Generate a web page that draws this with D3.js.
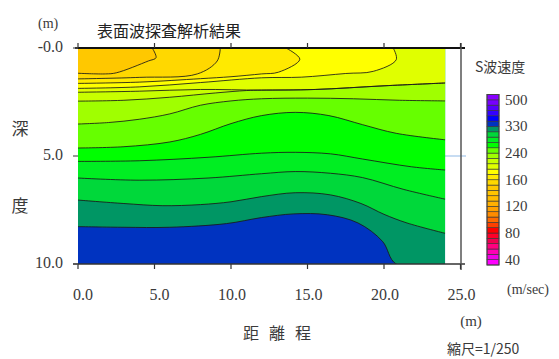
<!DOCTYPE html>
<html><head><meta charset="utf-8">
<script src="https://cdn.jsdelivr.net/npm/d3@7"></script>
<style>
html,body{margin:0;padding:0;background:#fff;}
svg{display:block;}
</style></head>
<body>
<svg id="chart" width="559" height="359"></svg>
<script>
// ---------- data ----------
const xTicks = [0, 5, 10, 15, 20, 25];
const xTickLabels = ["0.0", "5.0", "10.0", "15.0", "20.0", "25.0"];
const yTicks = [0, 5, 10];
const yTickLabels = ["-0.0", "5.0", "10.0"];
const dataExtentX = [0, 24];   // surveyed distance (m)
const depthExtent = [0, 10];   // depth (m)

// legend: velocity thresholds (m/sec) between colour cells, colour cells from slowest to fastest
const legendThresholds = [40, 48, 56, 64, 72, 80, 88, 96, 104, 112, 120, 128, 136, 144, 152, 160,
  176, 192, 208, 224, 240, 258, 276, 294, 312, 330, 364, 398, 432, 466, 500];
const legendColors = ["#ff00ff", "#f000e6", "#ff00b4", "#ff0080", "#f00050", "#ff0028", "#ff0000",
  "#ff4000", "#ff6a00", "#ff8c00", "#ffa000", "#ffb000", "#ffbc00", "#ffc400", "#ffc800", "#ffd800",
  "#ffea00", "#ffff00", "#e0ff00", "#c8ff00", "#a0ff00", "#66ff00", "#00ff00", "#00ee22", "#00d83a",
  "#009664", "#0033c0", "#0000ff", "#3300ff", "#5500ff", "#7700ff", "#8800ff"];
const legendLabels = [40, 80, 120, 160, 240, 330, 500];

// contour lines: [distance (m), depth (m)] for each velocity level (m/sec)
const contourLevels = [152, 160, 176, 192, 208, 224, 240, 258, 276, 294, 312, 330];
const contour152 = [[0,1.17],[1.8,1.2],[2.5,1.15],[4.6,0.6],[5.1,0.45],[4.85,0]];
const contour160 = [[0,1.43],[4,1.36],[7.8,1.2],[9.1,0.6],[9.3,0]];
const contour176 = [[0,1.64],[4,1.58],[8,1.42],[10,1.33],[12,1.2],[13.1,1.12],[14.5,0.52],[13.6,0]];
const contour192 = [[0,1.87],[4,1.8],[8,1.6],[12,1.38],[14.6,1.35],[17.5,1.18],[19.3,1.08],[20.8,0.54],[20.6,0]];
const contour208 = [[0,2.05],[4,2.0],[8,1.92],[12,1.95],[15.5,1.92],[20,1.75],[24,1.62]];
const contour224 = [[0,2.46],[3,2.42],[6,2.28],[9,2.08],[11,1.97],[12,1.95],[15.5,1.92],[20,1.75],[24,1.62]];
const contour240 = [[0,3.52],[2,3.45],[4,3.3],[6,3.05],[8,2.65],[10,2.45],[12,2.35],[15,2.32],[18,2.35],[21,2.42],[24,2.45]];
const contour258 = [[0,4.63],[3,4.57],[6,4.35],[8,4.0],[10,3.5],[12,3.13],[14.2,2.98],[16.4,3.13],[18.6,3.55],[20.8,3.95],[24,4.25]];
const contour276 = [[0,5.25],[4,5.22],[8.5,5.06],[12,4.87],[14.2,4.83],[16.5,4.9],[18.6,5.14],[21.8,5.5],[24,5.65]];
const contour294 = [[0,6.02],[4,6.12],[8.5,6.02],[12,5.82],[14.2,5.72],[16.5,5.8],[18.6,6.0],[21.3,6.55],[24,7.0]];
const contour312 = [[0,7.04],[3,7.2],[5.5,7.3],[8,7.25],[10,7.12],[12,6.88],[14.2,6.7],[16.5,6.8],[18.5,7.2],[20,7.7],[21.5,8.1],[24,8.58]];
const contour330 = [[0,8.27],[3,8.3],[6,8.3],[9.7,8.13],[12,7.85],[14.1,7.68],[16.3,7.72],[18.3,8.1],[19.9,8.95],[20.8,10],[24,10]];
const contourLines = [contour152, contour160, contour176, contour192, contour208, contour224,
  contour240, contour258, contour276, contour294, contour312, contour330];

// ---------- drawing ----------
const svg = d3.select("#chart");
const x = d3.scaleLinear().domain([0, 25]).range([78, 460.5]);
const y = d3.scaleLinear().domain(depthExtent).range([48, 264]);
const color = d3.scaleThreshold().domain(legendThresholds).range(legendColors);

const numFont = "'Liberation Serif', 'DejaVu Serif', serif";
const jpFont = "'Noto Sans CJK JP', 'Noto Sans', sans-serif";
const txt = "#3a3a3a";

// light grid line at 5 m depth
svg.append("line")
  .attr("x1", x(0)).attr("x2", 466).attr("y1", y(5)).attr("y2", y(5))
  .attr("stroke", "#b4d0ee").attr("stroke-width", 1.5);

svg.append("clipPath").attr("id", "plotClip")
  .append("rect")
  .attr("x", x(dataExtentX[0])).attr("y", y(depthExtent[0]))
  .attr("width", x(dataExtentX[1]) - x(dataExtentX[0]))
  .attr("height", y(depthExtent[1]) - y(depthExtent[0]));

const plot = svg.append("g").attr("clip-path", "url(#plotClip)");

// base band: fastest velocity below the deepest contour
const maxLevel = d3.max(contourLevels);
plot.append("rect")
  .attr("x", x(dataExtentX[0])).attr("y", y(depthExtent[0]))
  .attr("width", x(dataExtentX[1]) - x(dataExtentX[0]))
  .attr("height", y(depthExtent[1]) - y(depthExtent[0]))
  .attr("fill", color(maxLevel + 0.5));

const lineGen = d3.line().x(d => x(d[0])).y(d => y(d[1])).curve(d3.curveCatmullRom.alpha(0.5));

// fill region shallower than each contour, deepest first
const order = d3.range(contourLevels.length).reverse();
order.forEach(i => {
  const pts = contourLines[i];
  const last = pts[pts.length - 1];
  const path = lineGen(pts) + "L" + x(last[0]) + "," + y(0) + "L" + x(0) + "," + y(0) + "Z";
  plot.append("path").attr("d", path).attr("fill", color(contourLevels[i] - 0.5)).attr("stroke", "none");
});
// contour lines
order.forEach(i => {
  plot.append("path").attr("d", lineGen(contourLines[i]))
    .attr("fill", "none").attr("stroke", "#1a1a1a").attr("stroke-width", 1).attr("stroke-opacity", 0.85);
});

// frame lines
svg.append("line").attr("x1", 75).attr("x2", 465).attr("y1", y(0)).attr("y2", y(0))
  .attr("stroke", "#111").attr("stroke-width", 2);
svg.append("line").attr("x1", 73).attr("x2", 465).attr("y1", y(10)).attr("y2", y(10))
  .attr("stroke", "#333").attr("stroke-width", 1.5);
svg.append("line").attr("x1", 461).attr("x2", 461).attr("y1", 43).attr("y2", 270)
  .attr("stroke", "#555").attr("stroke-width", 1.5);

// top ticks
svg.append("g").selectAll("line").data(xTicks).join("line")
  .attr("x1", d => x(d)).attr("x2", d => x(d)).attr("y1", y(0) - 5).attr("y2", y(0))
  .attr("stroke", "#333").attr("stroke-width", 1.2);
// bottom ticks
svg.append("g").selectAll("line").data(xTicks).join("line")
  .attr("x1", d => x(d)).attr("x2", d => x(d)).attr("y1", y(10)).attr("y2", y(10) + 5)
  .attr("stroke", "#333").attr("stroke-width", 1.2);
// left ticks
svg.append("g").selectAll("line").data(yTicks).join("line")
  .attr("x1", 73).attr("x2", x(0)).attr("y1", d => y(d)).attr("y2", d => y(d))
  .attr("stroke", "#555").attr("stroke-width", 1.2);

// tick labels
svg.append("g").selectAll("text").data(xTicks).join("text")
  .attr("x", d => x(d) + 15).attr("y", 300)
  .attr("text-anchor", "end").attr("font-family", numFont).attr("font-size", 16)
  .attr("fill", txt).text((d, i) => xTickLabels[i]);
svg.append("g").selectAll("text").data(yTicks).join("text")
  .attr("x", 63).attr("y", d => y(d) + 4)
  .attr("text-anchor", "end").attr("font-family", numFont).attr("font-size", 16)
  .attr("fill", txt).text((d, i) => yTickLabels[i]);

// titles and axis names
svg.append("text").attr("x", 97).attr("y", 37).attr("font-family", jpFont).attr("font-size", 16)
  .attr("fill", "#222").text("表面波探査解析結果");
svg.append("text").attr("x", 38).attr("y", 28).attr("font-family", numFont).attr("font-size", 14)
  .attr("fill", txt).text("(m)");
svg.append("text").attr("x", 20).attr("y", 135).attr("text-anchor", "middle")
  .attr("font-family", jpFont).attr("font-size", 17).attr("fill", txt).text("深");
svg.append("text").attr("x", 20).attr("y", 212).attr("text-anchor", "middle")
  .attr("font-family", jpFont).attr("font-size", 17).attr("fill", txt).text("度");
const xName = ["距", "離", "程"];
svg.append("g").selectAll("text").data(xName).join("text")
  .attr("x", (d, i) => 251 + i * 26).attr("y", 339).attr("text-anchor", "middle")
  .attr("font-family", jpFont).attr("font-size", 16).attr("fill", txt).text(d => d);
svg.append("text").attr("x", 471).attr("y", 326).attr("text-anchor", "middle")
  .attr("font-family", numFont).attr("font-size", 15).attr("fill", txt).text("(m)");
svg.append("text").attr("x", 447).attr("y", 354)
  .attr("font-family", jpFont).attr("font-size", 14).attr("fill", txt).text("縮尺=1/250");

// legend
svg.append("text").attr("x", 475).attr("y", 72)
  .attr("font-family", jpFont).attr("font-size", 14).attr("fill", txt).text("S波速度");
const ly = d3.scaleLinear().domain([0, legendColors.length]).range([265, 94.5]);
const lg = svg.append("g");
lg.selectAll("rect").data(legendColors).join("rect")
  .attr("x", 487).attr("width", 12)
  .attr("y", (d, i) => ly(i + 1)).attr("height", (d, i) => ly(i) - ly(i + 1))
  .attr("fill", d => d).attr("stroke", "#333").attr("stroke-width", 0.6);
lg.append("rect").attr("x", 487).attr("y", ly(legendColors.length)).attr("width", 12)
  .attr("height", ly(0) - ly(legendColors.length)).attr("fill", "none")
  .attr("stroke", "#444").attr("stroke-width", 1);
lg.selectAll("text").data(legendLabels).join("text")
  .attr("x", 505).attr("y", d => ly(legendThresholds.indexOf(d) + 1) + 5)
  .attr("font-family", numFont).attr("font-size", 15).attr("fill", txt).text(d => d);
svg.append("text").attr("x", 507).attr("y", 294)
  .attr("font-family", numFont).attr("font-size", 14).attr("fill", txt).text("(m/sec)");
</script>
</body></html>
